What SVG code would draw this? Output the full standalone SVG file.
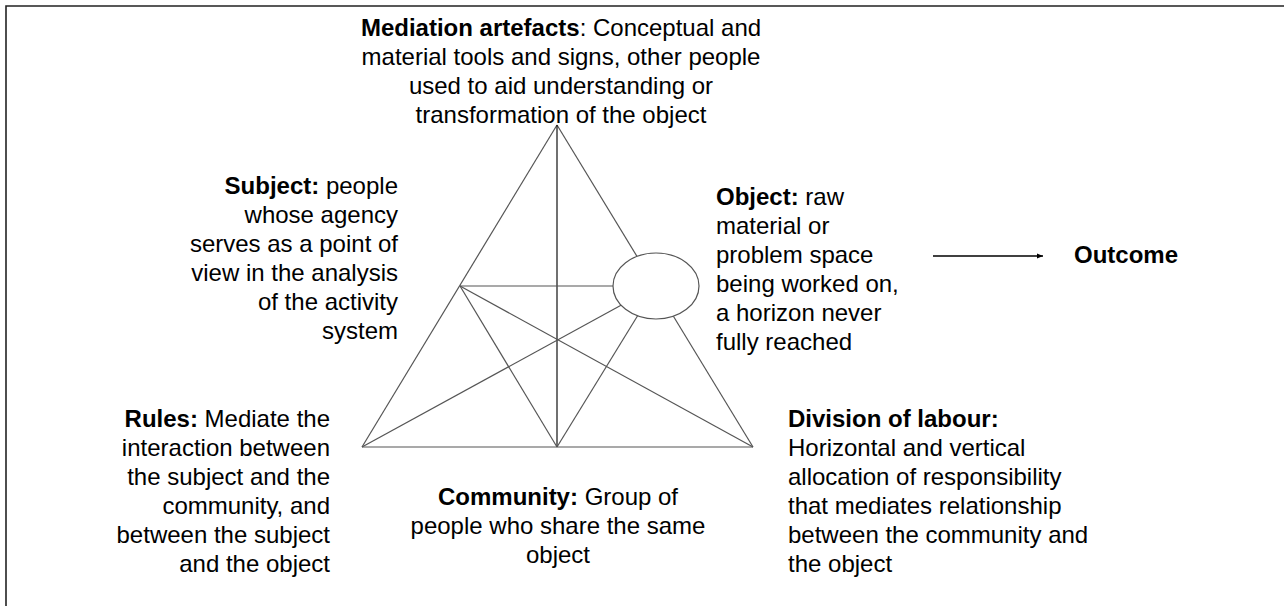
<svg xmlns="http://www.w3.org/2000/svg" width="1284" height="606" viewBox="0 0 1284 606">
<style>
text{font-family:"Liberation Sans",Arial,sans-serif;font-size:24px;fill:#000}
.b{font-weight:bold}
.tri{stroke:#555;stroke-width:1.2;fill:none}
.dark{stroke:#111;stroke-width:1.2}
</style>
<defs>
<marker id="ah" viewBox="0 0 10 10" refX="10" refY="5" markerWidth="6" markerHeight="6" orient="auto" markerUnits="userSpaceOnUse">
<path d="M0,1 L10,5 L0,9 z" fill="#000"/>
</marker>
</defs>
<rect width="1284" height="606" fill="#fff"/>
<g id="frame" stroke="#222" stroke-width="1.6" fill="none">
<path d="M6,606 L6,6 L1284,6"/>
</g>
<g id="connectors">
<line class="tri" x1="557" y1="125" x2="362" y2="447"/>
<line class="tri" x1="362" y1="447" x2="753" y2="447"/>
<line class="tri" x1="557" y1="125" x2="637" y2="256.4"/>
<line class="tri" x1="673.4" y1="316.2" x2="753" y2="447"/>
<line class="tri dark" x1="557" y1="125" x2="557" y2="447"/>
<line class="tri" x1="460" y1="286" x2="613" y2="286"/>
<line class="tri" x1="460" y1="286" x2="557" y2="447"/>
<line class="tri" x1="460" y1="286" x2="753" y2="447"/>
<line class="tri" x1="362" y1="447" x2="621" y2="305.2"/>
<line class="tri" x1="557" y1="447" x2="637.6" y2="315.8"/>
<line stroke="#000" stroke-width="1.6" x1="933" y1="256" x2="1043" y2="256" marker-end="url(#ah)"/>
</g>
<g id="object-ellipse">
<ellipse cx="656" cy="286" rx="43" ry="33" fill="#fff" stroke="#555" stroke-width="1.2"/>
</g>
<g id="mediation" text-anchor="middle">
<text x="561" y="36"><tspan class="b">Mediation artefacts</tspan>: Conceptual and</text>
<text x="561" y="65">material tools and signs, other people</text>
<text x="561" y="94">used to aid understanding or</text>
<text x="561" y="123">transformation of the object</text>
</g>
<g id="subject" text-anchor="end">
<text x="398" y="194"><tspan class="b">Subject:</tspan> people</text>
<text x="398" y="223">whose agency</text>
<text x="398" y="252">serves as a point of</text>
<text x="398" y="281">view in the analysis</text>
<text x="398" y="310">of the activity</text>
<text x="398" y="339">system</text>
</g>
<g id="object">
<text x="716" y="205"><tspan class="b">Object:</tspan> raw</text>
<text x="716" y="234">material or</text>
<text x="716" y="263">problem space</text>
<text x="716" y="292">being worked on,</text>
<text x="716" y="321">a horizon never</text>
<text x="716" y="350">fully reached</text>
</g>
<g id="outcome">
<text class="b" x="1074" y="263">Outcome</text>
</g>
<g id="rules" text-anchor="end">
<text x="330" y="427"><tspan class="b">Rules:</tspan> Mediate the</text>
<text x="330" y="456">interaction between</text>
<text x="330" y="485">the subject and the</text>
<text x="330" y="514">community, and</text>
<text x="330" y="543">between the subject</text>
<text x="330" y="572">and the object</text>
</g>
<g id="community" text-anchor="middle">
<text x="558" y="505"><tspan class="b">Community:</tspan> Group of</text>
<text x="558" y="534">people who share the same</text>
<text x="558" y="563">object</text>
</g>
<g id="division">
<text class="b" x="788" y="427">Division of labour:</text>
<text x="788" y="456">Horizontal and vertical</text>
<text x="788" y="485">allocation of responsibility</text>
<text x="788" y="514">that mediates relationship</text>
<text x="788" y="543">between the community and</text>
<text x="788" y="572">the object</text>
</g>
</svg>
